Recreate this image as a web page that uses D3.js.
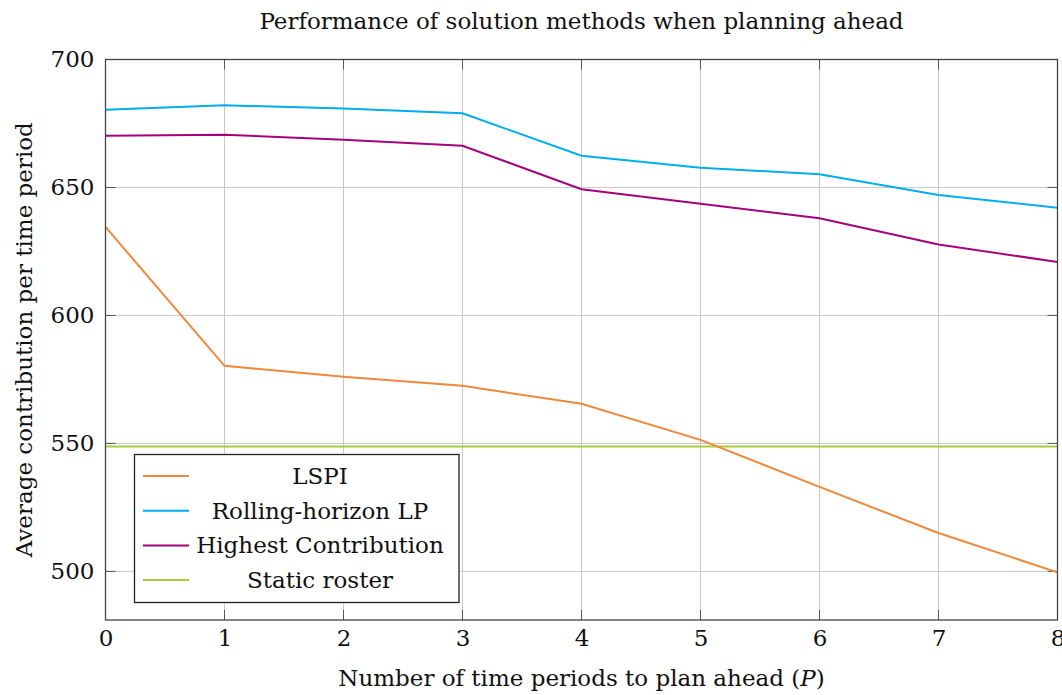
<!DOCTYPE html>
<html>
<head>
<meta charset="utf-8">
<script src="https://cdn.jsdelivr.net/npm/d3@7"></script>
<style>
  html, body { margin: 0; padding: 0; background: #fff; }
  svg { display: block; font-family: "DejaVu Serif", "Liberation Serif", serif; }
</style>
</head>
<body>
<svg id="chart" width="1062" height="695"></svg>
<script>
// Planning horizon P (x axis)
const horizons = [0, 1, 2, 3, 4, 5, 6, 7, 8];

// Average contribution per time period for each method
const lspi = [634.6, 580.3, 576.0, 572.5, 565.5, 551.4, 533.0, 515.0, 499.6];
const rollingLP = [680.4, 682.1, 680.9, 679.0, 662.4, 657.7, 655.2, 647.1, 642.1];
const highestContribution = [670.2, 670.6, 668.6, 666.3, 649.3, 643.6, 638.0, 627.7, 620.9];
const staticRoster = [548.8, 548.8, 548.8, 548.8, 548.8, 548.8, 548.8, 548.8, 548.8];

const seriesNames = ["LSPI", "Rolling-horizon LP", "Highest Contribution", "Static roster"];
const seriesColors = ["#f0883c", "#00aeef", "#a5037c", "#a8cc3a"];
const seriesValues = [lspi, rollingLP, highestContribution, staticRoster];

const yTicks = [500, 550, 600, 650, 700];
const xTicks = [0, 1, 2, 3, 4, 5, 6, 7, 8];

const title = "Performance of solution methods when planning ahead";
const yLabel = "Average contribution per time period";

const svg = d3.select("#chart");
const margin = { left: 105.5, top: 59.5, right: 1062 - 1057.5, bottom: 695 - 620 };
const W = 1062, H = 695;
const x0 = margin.left, x1 = W - margin.right, y0 = H - margin.bottom, y1 = margin.top;

const x = d3.scaleLinear().domain([0, 8]).range([x0, x1]);
const y = d3.scaleLinear().domain([481, 700]).range([y0, y1]);

const FS = 23;

// grid
const grid = svg.append("g").attr("stroke", "#c8c8c8").attr("stroke-width", 1);
grid.selectAll("line.gx").data(xTicks).join("line")
  .attr("x1", d => x(d)).attr("x2", d => x(d)).attr("y1", y0).attr("y2", y1);
grid.selectAll("line.gy").data(yTicks).join("line")
  .attr("x1", x0).attr("x2", x1).attr("y1", d => y(d)).attr("y2", d => y(d));

// tick marks on all four sides (inward)
const TL = 10;
const ticks = svg.append("g").attr("stroke", "#555").attr("stroke-width", 1);
xTicks.forEach(t => {
  ticks.append("line").attr("x1", x(t)).attr("x2", x(t)).attr("y1", y0).attr("y2", y0 - TL);
  ticks.append("line").attr("x1", x(t)).attr("x2", x(t)).attr("y1", y1).attr("y2", y1 + TL);
});
yTicks.forEach(t => {
  ticks.append("line").attr("x1", x0).attr("x2", x0 + TL).attr("y1", y(t)).attr("y2", y(t));
  ticks.append("line").attr("x1", x1).attr("x2", x1 - TL).attr("y1", y(t)).attr("y2", y(t));
});

// series lines
const line = d3.line().x((d, i) => x(horizons[i])).y(d => y(d));
const order = [3, 0, 1, 2];
order.forEach(k => {
  svg.append("path")
    .datum(seriesValues[k])
    .attr("d", line)
    .attr("fill", "none")
    .attr("stroke", seriesColors[k])
    .attr("stroke-width", 2);
});

// frame
svg.append("rect")
  .attr("x", x0).attr("y", y1).attr("width", x1 - x0).attr("height", y0 - y1)
  .attr("fill", "none").attr("stroke", "#444").attr("stroke-width", 1.3);

// tick labels via d3 axes (domain and tick lines hidden)
const xAxis = svg.append("g").attr("transform", `translate(0,${y0})`)
  .call(d3.axisBottom(x).tickValues(xTicks).tickFormat(d3.format("d")).tickSize(0).tickPadding(10));
const yAxis = svg.append("g").attr("transform", `translate(${x0},0)`)
  .call(d3.axisLeft(y).tickValues(yTicks).tickFormat(d3.format("d")).tickSize(0).tickPadding(11));
[xAxis, yAxis].forEach(a => {
  a.select(".domain").remove();
  a.selectAll("text").attr("font-family", "DejaVu Serif, Liberation Serif, serif")
    .attr("font-size", FS).attr("fill", "#111");
});

// title
svg.append("text").attr("x", (x0 + x1) / 2).attr("y", 29)
  .attr("text-anchor", "middle").attr("font-size", FS).attr("fill", "#111").text(title);

// x label with italic P
const xl = svg.append("text").attr("x", (x0 + x1) / 2).attr("y", 686)
  .attr("text-anchor", "middle").attr("font-size", FS).attr("fill", "#111");
xl.append("tspan").text("Number of time periods to plan ahead (");
xl.append("tspan").attr("font-style", "italic").text("P");
xl.append("tspan").text(")");

// y label
svg.append("text")
  .attr("transform", `translate(32,${(y0 + y1) / 2}) rotate(-90)`)
  .attr("text-anchor", "middle").attr("font-size", FS).attr("fill", "#111").text(yLabel);

// legend
const lg = svg.append("g");
const lx = 134.5, ly = 454.5, lw = 324.5, lh = 148;
lg.append("rect").attr("x", lx).attr("y", ly).attr("width", lw).attr("height", lh)
  .attr("fill", "#fff").attr("stroke", "#222").attr("stroke-width", 1.3);
seriesNames.forEach((name, i) => {
  const cy = 476 + i * 34.7;
  lg.append("line").attr("x1", 143).attr("x2", 189).attr("y1", cy).attr("y2", cy)
    .attr("stroke", seriesColors[i]).attr("stroke-width", 2);
  lg.append("text").attr("x", 320).attr("y", cy).attr("dy", "0.35em")
    .attr("text-anchor", "middle").attr("font-size", FS).attr("fill", "#111").text(name);
});
</script>
</body>
</html>
